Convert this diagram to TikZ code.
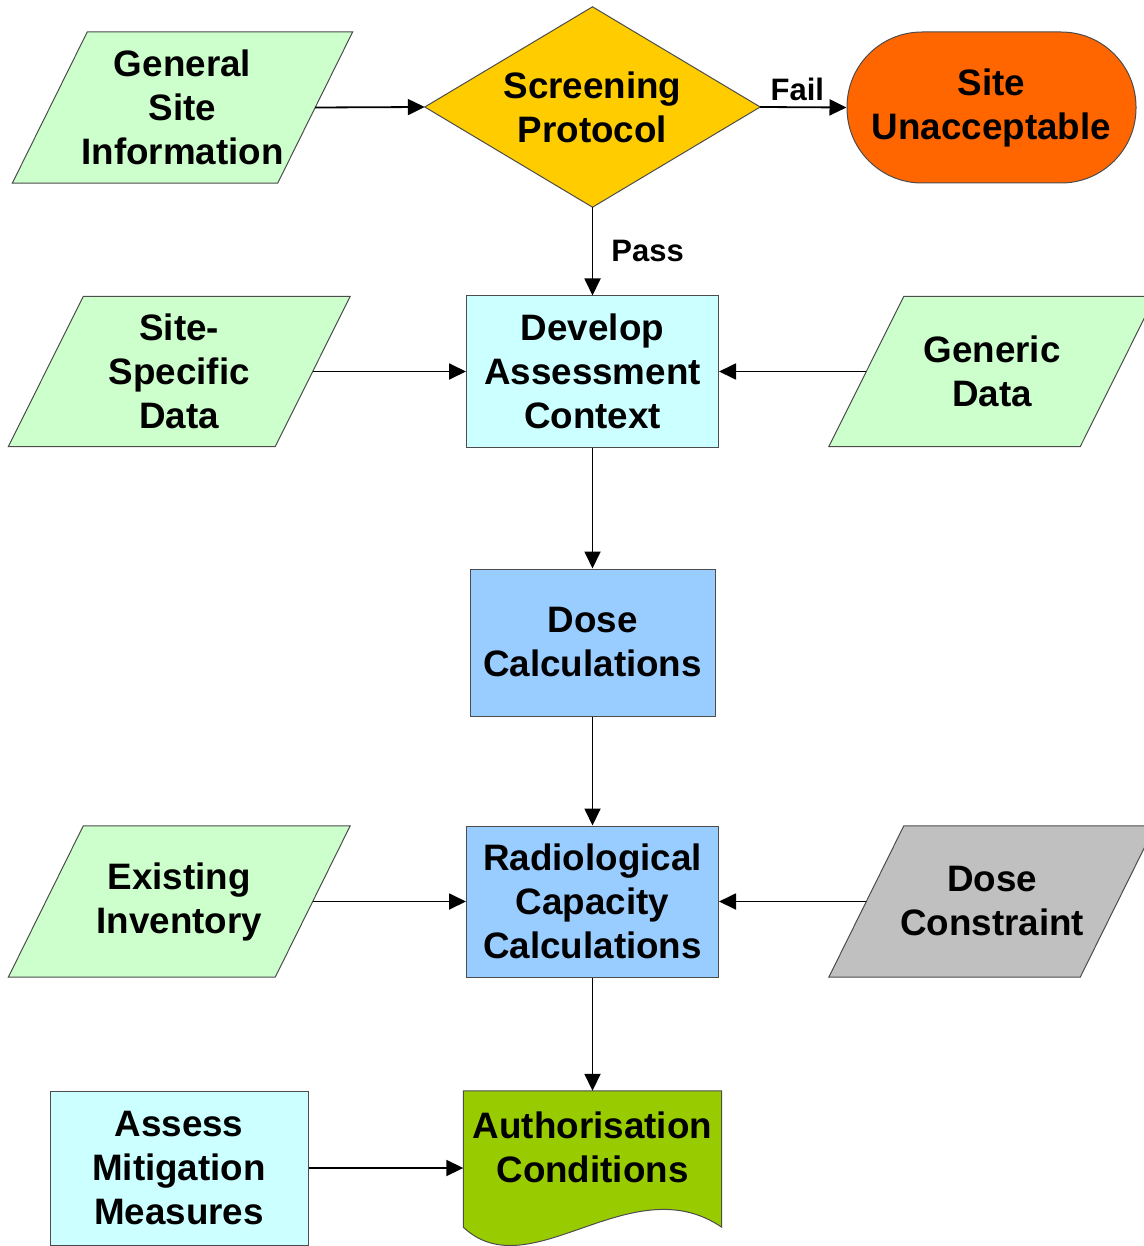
\documentclass[tikz,border=0pt]{standalone}
\usepackage{fontspec}
\setmainfont{Liberation Sans}
\usetikzlibrary{arrows.meta,backgrounds,calc}
\definecolor{cgreen}{HTML}{CCFFCC}
\definecolor{cyellow}{HTML}{FFCC00}
\definecolor{corange}{HTML}{FF6600}
\definecolor{ccyan}{HTML}{CCFFFF}
\definecolor{cblue}{HTML}{99CCFF}
\definecolor{cgray}{HTML}{C0C0C0}
\definecolor{colive}{HTML}{99CC00}
\begin{document}
\begin{tikzpicture}[x=1pt,y=-1pt,
  txt/.style={font=\bfseries\fontsize{36.8}{44}\selectfont, align=center, inner sep=0pt},
  shp/.style={draw=black!70, line width=1pt},
  arr/.style={line width=1.8pt, -{Triangle[length=17pt,width=16pt]}},
  lbl/.style={font=\bfseries\fontsize{31}{37}\selectfont, inner sep=0pt}]
\useasboundingbox (0,0) rectangle (1143,1246);

% nodes
\node[txt, minimum width=265pt, minimum height=151pt] (gsi) at (182.5,107.5) {General\\Site\\Information};
\node[txt, minimum width=335pt, minimum height=200pt] (scr) at (592.5,107) {Screening\\Protocol};
\node[txt, shp, fill=corange, rounded corners=75pt, minimum width=289pt, minimum height=151pt] (unacc) at (991.5,107.5) {Site\\Unacceptable};
\node[txt, shp, fill=ccyan, minimum width=252pt, minimum height=151pt] (dev) at (592.5,371.5) {Develop\\Assessment\\Context};
\node[txt, minimum width=266.5pt, minimum height=150pt] (ssd) at (179.25,371.5) {Site-\\Specific\\Data};
\node[txt, minimum width=251pt, minimum height=150pt] (gen) at (992,371.5) {Generic\\Data};
\node[txt, shp, fill=cblue, minimum width=245pt, minimum height=147pt] (dose) at (592.5,642.5) {Dose\\Calculations};
\node[txt, shp, fill=cblue, minimum width=252pt, minimum height=151pt] (rad) at (592.5,901.5) {Radiological\\Capacity\\Calculations};
\node[txt, minimum width=266.5pt, minimum height=151pt] (inv) at (179.25,901.5) {Existing\\Inventory};
\node[txt, minimum width=251pt, minimum height=151pt] (dcon) at (992,901.5) {Dose\\Constraint};
\node[txt, minimum width=258pt, minimum height=112pt] (auth) at (592.5,1147) {Authorisation\\Conditions};
\node[txt, shp, fill=ccyan, minimum width=258pt, minimum height=154pt] (assess) at (179,1168) {Assess\\Mitigation\\Measures};

% shapes behind the texts
\begin{scope}[on background layer]
  \foreach \n/\c in {gsi/cgreen, ssd/cgreen, gen/cgreen, inv/cgreen, dcon/cgray}{
    \filldraw[shp, fill=\c] ([xshift=37.5pt]\n.north west) -- ([xshift=37.5pt]\n.north east)
      -- ([xshift=-37.5pt]\n.south east) -- ([xshift=-37.5pt]\n.south west) -- cycle;
  }
  \filldraw[shp, fill=cyellow] (scr.west) -- (scr.north) -- (scr.east) -- (scr.south) -- cycle;
  \filldraw[shp, fill=colive] (auth.north west) -- (auth.north east) -- ($(auth.south east)+(0,24)$)
    .. controls ($(auth.south east)+(-91,-38)$) and ($(auth.south west)+(67,87)$) .. ($(auth.south west)+(0,24)$) -- cycle;
\end{scope}

% connectors
\draw[arr] (gsi.east) -- (scr.west);
\draw[arr] (scr.east) -- node[lbl, above=6pt, xshift=-6pt] (fail) {Fail} (unacc.west);
\draw[arr] (scr.south) -- node[lbl, right=18pt] (pass) {Pass} (dev.north);
\draw[arr] (ssd.east) -- (dev.west);
\draw[arr] (gen.west) -- (dev.east);
\draw[arr] (dev.south) -- (dose.north);
\draw[arr] (dose.south) -- (rad.north);
\draw[arr] (inv.east) -- (rad.west);
\draw[arr] (dcon.west) -- (rad.east);
\draw[arr] (rad.south) -- (auth.north);
\draw[arr] (assess.east) -- (assess.east -| auth.west);
\end{tikzpicture}
\end{document}
